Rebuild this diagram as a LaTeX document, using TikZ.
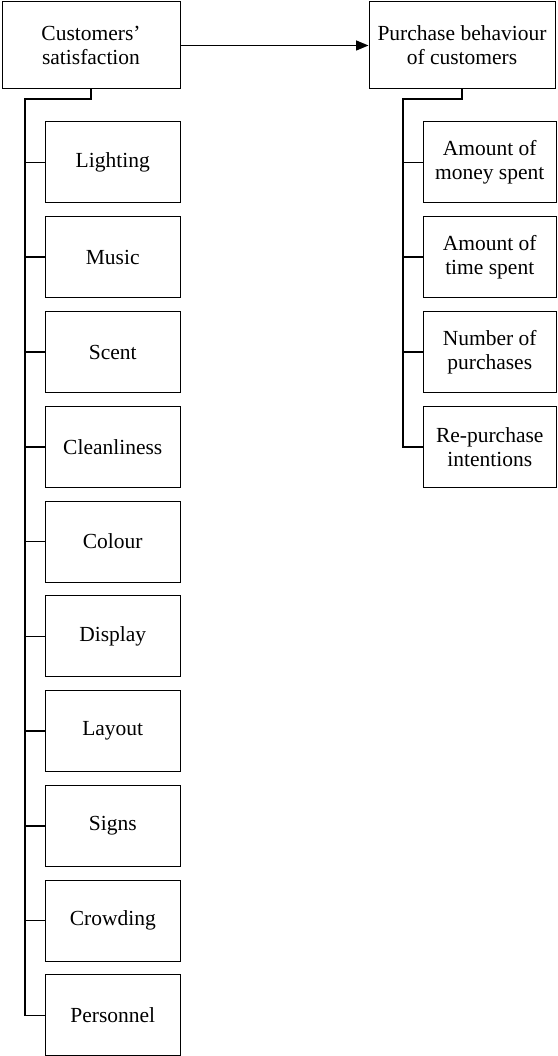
\documentclass[tikz,border=0pt]{standalone}
\usepackage{fontspec}
\setmainfont{Liberation Serif}
\usetikzlibrary{arrows.meta}
\tikzset{
  box/.style={draw, line width=1pt, inner sep=0pt, align=center,
    font=\fontsize{21.5}{24}\selectfont},
  topbox/.style={box, minimum height=87pt},
  lbox/.style={box, minimum width=134.5pt, minimum height=81pt},
  rbox/.style={box, minimum width=132.5pt, minimum height=81pt},
  conn/.style={line width=1.5pt},
}
\begin{document}
\begin{tikzpicture}[x=1pt,y=-1pt]
\useasboundingbox (0,0) rectangle (557,1056);
\node[topbox, minimum width=178pt] (cs) at (91,45.5) {Customers'\\satisfaction};
\node[topbox, minimum width=186pt] (pb) at (462,45.5) {Purchase behaviour\\of customers};
\draw[conn, -{Triangle[length=12.5pt,width=10pt]}] (cs.east) -- (pb.west);
% left items
\node[lbox] (l1) at (112.75,162.5) {Lighting};
\node[lbox] (l2) at (112.75,257.25) {Music};
\node[lbox] (l3) at (112.75,352) {Scent};
\node[lbox] (l4) at (112.75,446.75) {Cleanliness};
\node[lbox] (l5) at (112.75,541.5) {Colour};
\node[lbox] (l6) at (112.75,636.25) {Display};
\node[lbox] (l7) at (112.75,731) {Layout};
\node[lbox] (l8) at (112.75,825.75) {Signs};
\node[lbox] (l9) at (112.75,920.5) {Crowding};
\node[lbox] (l10) at (112.75,1015.25) {Personnel};
% right items
\node[rbox] (r1) at (489.75,162.5) {Amount of\\money spent};
\node[rbox] (r2) at (489.75,257.25) {Amount of\\time spent};
\node[rbox] (r3) at (489.75,352) {Number of\\purchases};
\node[rbox] (r4) at (489.75,446.75) {Re-purchase\\intentions};
% left tree
\coordinate (lb) at (25,99);
\draw[conn] (cs.south) |- (lb) -- (lb |- l10.west) -- (l10.west);
\foreach \i in {1,...,9} \draw[conn] (lb |- l\i.west) -- (l\i.west);
% right tree
\coordinate (rb) at (403,99);
\draw[conn] (pb.south) |- (rb) -- (rb |- r4.west) -- (r4.west);
\foreach \i in {1,2,3} \draw[conn] (rb |- r\i.west) -- (r\i.west);
\end{tikzpicture}
\end{document}
